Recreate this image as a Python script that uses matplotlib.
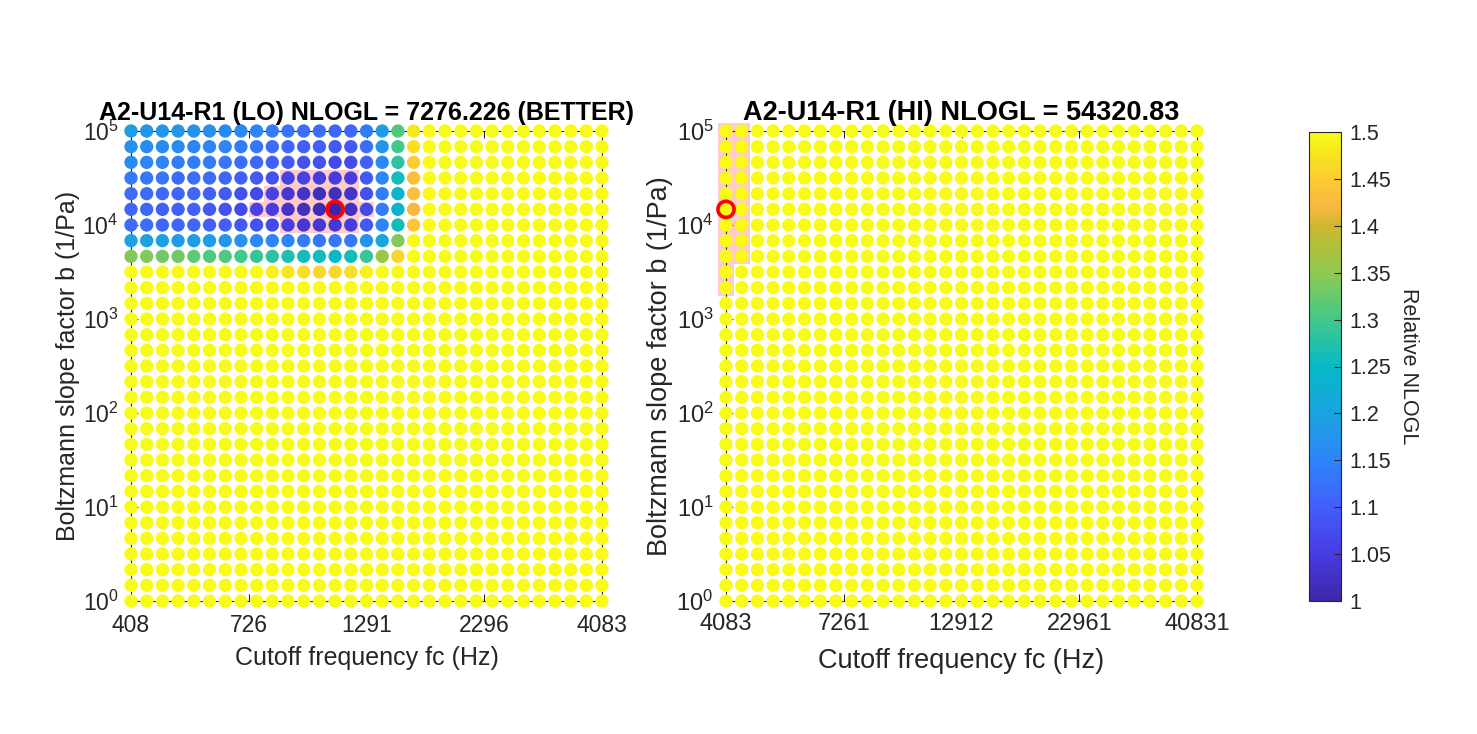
import numpy as np
import matplotlib
matplotlib.use("Agg")
import matplotlib.pyplot as plt
from matplotlib.colors import LinearSegmentedColormap, ListedColormap
from matplotlib.ticker import NullLocator

plt.rcParams['font.family'] = ['Liberation Sans', 'DejaVu Sans']
plt.rcParams['mathtext.fontset'] = 'custom'
plt.rcParams['mathtext.rm'] = 'Liberation Sans'

# parula-like colormap (MATLAB)
parula = LinearSegmentedColormap.from_list("parula", [
    (0.00, (0.242, 0.150, 0.660)),
    (0.10, (0.275, 0.235, 0.885)),
    (0.20, (0.265, 0.370, 0.985)),
    (0.30, (0.180, 0.520, 0.975)),
    (0.40, (0.100, 0.640, 0.880)),
    (0.50, (0.020, 0.725, 0.780)),
    (0.60, (0.260, 0.785, 0.540)),
    (0.70, (0.560, 0.790, 0.310)),
    (0.80, (0.800, 0.720, 0.180)),
    (0.84, (0.975, 0.715, 0.250)),
    (0.90, (0.990, 0.800, 0.200)),
    (0.95, (0.960, 0.890, 0.130)),
    (1.00, (0.977, 0.984, 0.081)),
])

# grid of the parameter search (31 x 31, log spaced)
fc_lo = np.geomspace(408.31, 4083.1, 31)
fc_hi = np.geomspace(4083.1, 40831, 31)
b_vals = np.geomspace(1e5, 1, 31)   # row 0 = top

xticks_lo = [408.31, 726.1, 1291.2, 2296.1, 4083.1]
xticklabels_lo = ["408", "726", "1291", "2296", "4083"]
xticks_hi = [4083.1, 7261, 12912, 22961, 40831]
xticklabels_hi = ["4083", "7261", "12912", "22961", "40831"]

# relative NLOGL, top-left corner of LO grid (rows 0-9, cols 0-18); rest >= 1.5
rel_lo_corner = [
    [1.19, 1.18, 1.18, 1.18, 1.17, 1.17, 1.16, 1.16, 1.15, 1.14, 1.13, 1.12, 1.12, 1.11, 1.11, 1.14, 1.19, 1.31, 1.48],
    [1.17, 1.16, 1.16, 1.16, 1.15, 1.15, 1.15, 1.14, 1.13, 1.12, 1.11, 1.10, 1.10, 1.09, 1.09, 1.12, 1.18, 1.30, 1.47],
    [1.16, 1.15, 1.15, 1.14, 1.14, 1.14, 1.13, 1.12, 1.11, 1.10, 1.09, 1.08, 1.08, 1.07, 1.07, 1.10, 1.16, 1.28, 1.45],
    [1.14, 1.13, 1.13, 1.12, 1.12, 1.12, 1.11, 1.10, 1.09, 1.08, 1.06, 1.06, 1.05, 1.05, 1.05, 1.09, 1.15, 1.26, 1.43],
    [1.12, 1.12, 1.11, 1.11, 1.11, 1.10, 1.09, 1.08, 1.07, 1.06, 1.04, 1.03, 1.02, 1.02, 1.03, 1.08, 1.14, 1.24, 1.43],
    [1.11, 1.11, 1.10, 1.10, 1.10, 1.09, 1.08, 1.07, 1.06, 1.05, 1.03, 1.02, 1.01, 1.00, 1.02, 1.07, 1.14, 1.24, 1.42],
    [1.12, 1.12, 1.11, 1.11, 1.11, 1.10, 1.10, 1.09, 1.08, 1.07, 1.05, 1.04, 1.04, 1.04, 1.05, 1.09, 1.15, 1.26, 1.44],
    [1.20, 1.20, 1.20, 1.19, 1.19, 1.19, 1.18, 1.17, 1.16, 1.15, 1.15, 1.14, 1.13, 1.13, 1.14, 1.17, 1.21, 1.34, 1.50],
    [1.34, 1.34, 1.33, 1.33, 1.32, 1.31, 1.31, 1.30, 1.29, 1.28, 1.27, 1.26, 1.26, 1.25, 1.26, 1.29, 1.36, 1.46, 1.50],
    [1.50, 1.50, 1.50, 1.50, 1.50, 1.50, 1.50, 1.50, 1.50, 1.49, 1.48, 1.47, 1.46, 1.46, 1.47, 1.49, 1.50, 1.50, 1.50],
]
rel_lo = np.full((31, 31), 1.5)
rel_lo[:10, :19] = rel_lo_corner
rel_hi = np.full((31, 31), 1.5)

best_lo = (5, 13)   # (row, col)
best_hi = (5, 0)

# shaded region: row -> (first col, last col)
region_lo = {3: (10, 14), 4: (9, 14), 5: (8, 15), 6: (10, 14)}
region_hi = {0: (0, 1), 1: (0, 1), 2: (0, 1), 3: (0, 1), 4: (0, 1), 5: (0, 1),
             6: (0, 1), 7: (0, 1), 8: (0, 1), 9: (0, 0), 10: (0, 0)}

title_lo = "A2-U14-R1 (LO) NLOGL = 7276.226 (BETTER)"
title_hi = "A2-U14-R1 (HI) NLOGL = 54320.83"

txt = (0.15, 0.15, 0.15)


def edges(v):
    mid = np.sqrt(v[:-1] * v[1:])
    return np.concatenate([[v[0]**2 / mid[0]], mid, [v[-1]**2 / mid[-1]]])


def panel(ax, fc, rel, best, region, title, xt, xtl, fs_tick, fs_lab, fs_title, xpad, ypad):
    mask = np.ones_like(rel, dtype=bool)
    for r, (c0, c1) in region.items():
        mask[r, c0:c1 + 1] = False
    shade = np.ma.masked_array(np.ones_like(rel), mask)
    qm = ax.pcolormesh(edges(fc), edges(b_vals), shade, cmap=ListedColormap(['#ffcccc']),
                       vmin=0, vmax=2, zorder=1, shading='flat', antialiased=False)
    qm.set_clip_on(False)
    X, Y = np.meshgrid(fc, b_vals)
    sc = ax.scatter(X.ravel(), Y.ravel(), c=rel.ravel(), cmap=parula, vmin=1, vmax=1.5,
                    s=92, linewidths=0, zorder=3, clip_on=False)
    ax.scatter([fc[best[1]]], [b_vals[best[0]]], s=135, facecolors='none',
               edgecolors='red', linewidths=2.6, zorder=4, clip_on=False)
    ax.set_xscale('log')
    ax.set_yscale('log')
    ax.set_xlim(fc[0], fc[-1])
    ax.set_ylim(1, 1e5)
    ax.set_xticks(xt)
    ax.set_xticklabels(xtl)
    ax.set_yticks([1, 10, 100, 1e3, 1e4, 1e5])
    ax.xaxis.set_minor_locator(NullLocator())
    ax.yaxis.set_minor_locator(NullLocator())
    ax.tick_params(direction='in', length=5, width=0.8, top=True, right=True,
                   labelsize=fs_tick, colors=txt, pad=9)
    for s in ax.spines.values():
        s.set_color(txt)
        s.set_linewidth(0.8)
    ax.set_xlabel("Cutoff frequency fc (Hz)", fontsize=fs_lab, color=txt, labelpad=xpad)
    ax.set_ylabel("Boltzmann slope factor b (1/Pa)", fontsize=fs_lab, color=txt, labelpad=ypad)
    ax.set_title(title, fontsize=fs_title, fontweight='bold', pad=8)
    return sc


fig = plt.figure(figsize=(14.77, 7.34), dpi=100)
ax1 = fig.add_axes([131 / 1477, 1 - 601 / 734, 471 / 1477, 470 / 734])
ax2 = fig.add_axes([726 / 1477, 1 - 601 / 734, 471 / 1477, 470 / 734])
cax = fig.add_axes([1309 / 1477, 1 - 601 / 734, 32 / 1477, 469 / 734])

sc = panel(ax1, fc_lo, rel_lo, best_lo, region_lo, title_lo, xticks_lo, xticklabels_lo,
           16.5, 18, 18, 7, 2)
panel(ax2, fc_hi, rel_hi, best_hi, region_hi, title_hi, xticks_hi, xticklabels_hi,
      17, 19.5, 19.5, 9, 2)

cbar_ticks = [1, 1.05, 1.1, 1.15, 1.2, 1.25, 1.3, 1.35, 1.4, 1.45, 1.5]
cbar_labels = ["1", "1.05", "1.1", "1.15", "1.2", "1.25", "1.3", "1.35", "1.4", "1.45", "1.5"]
cb = fig.colorbar(sc, cax=cax, ticks=cbar_ticks)
cb.ax.set_yticklabels(cbar_labels)
cb.ax.tick_params(direction='in', length=5, width=0.8, labelsize=15.5, colors=txt, pad=6)
cb.outline.set_edgecolor(txt)
cb.outline.set_linewidth(0.8)
cb.set_label("Relative NLOGL", rotation=270, fontsize=15.5, color=txt, labelpad=20)

fig.savefig("out.png", dpi=100)
